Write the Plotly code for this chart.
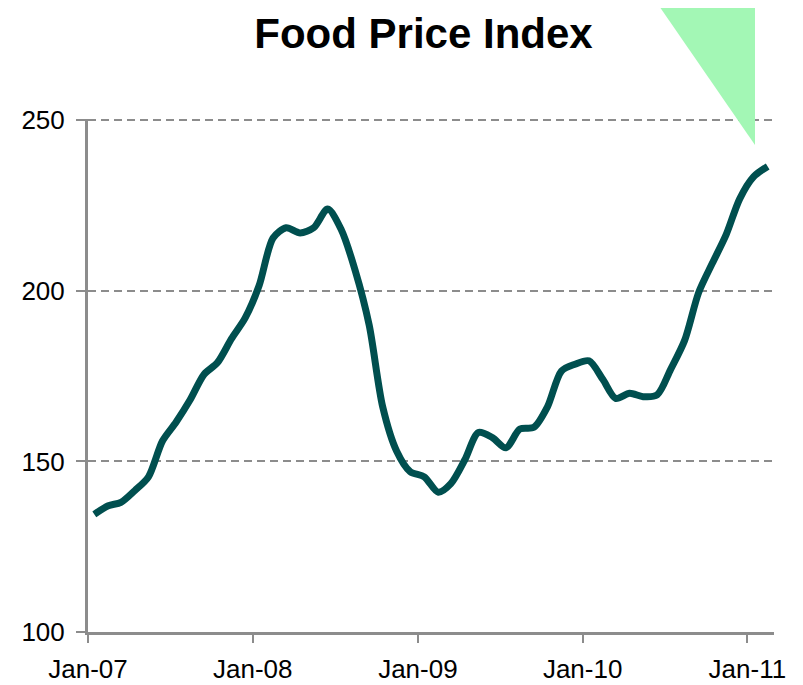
"""Food Price Index line chart (Plotly)."""

import plotly.graph_objects as go

# monthly data, Jan-2007 .. Feb-2011 (plotted mid-month)
months = [f"{2007 + i // 12}-{i % 12 + 1:02d}-15" for i in range(50)]
index_values = [
    134.5, 137, 138, 141.5, 145.5, 156, 161.5, 168, 175.5, 179, 186, 192,
    201.5, 215.5, 218.5, 217, 218.5, 224, 218, 206, 190, 166, 153, 147,
    145.5, 141, 143.5, 150.5, 158.5, 157, 154, 159.5, 160, 166, 176.5, 178.5,
    179.5, 174, 168.5, 170, 169, 169.5, 177, 185.5, 199.5, 208, 216.5, 227,
    233.5, 236.5,
]
tick_dates = ["2007-01-01", "2008-01-01", "2009-01-01", "2010-01-01", "2011-01-01"]
tick_labels = ["Jan-07", "Jan-08", "Jan-09", "Jan-10", "Jan-11"]
y_ticks = [100, 150, 200, 250]

FONT = "Liberation Sans, Arial, sans-serif"
AXIS_GREY = "#8c8c8c"

fig = go.Figure(go.Scatter(
    x=months,
    y=index_values,
    mode="lines",
    line=dict(color="#004f4f", width=7, shape="spline", smoothing=0.8),
    hoverinfo="skip",
))

# page body adds an 8px offset, so the figure is sized to end at the window edge
fig.update_layout(
    width=795,
    height=677,
    margin=dict(l=80, r=29, t=111, b=53),
    paper_bgcolor="white",
    plot_bgcolor="white",
    showlegend=False,
    font=dict(family=FONT, size=26, color="black"),
    title=dict(
        text="<b>Food Price Index</b>",
        font=dict(family=FONT, size=42, color="black"),
        x=415.5 / 795, xref="container", xanchor="center",
        y=1 - 25 / 677, yref="container", yanchor="middle",
    ),
    xaxis=dict(
        type="date",
        range=["2007-01-01", "2011-03-01"],
        tickvals=tick_dates,
        ticktext=tick_labels,
        showgrid=False,
        showline=True, linecolor=AXIS_GREY, linewidth=3,
        ticks="outside", ticklen=8, tickwidth=2, tickcolor=AXIS_GREY,
        ticklabelstandoff=4,
        zeroline=False,
        automargin=False,
    ),
    yaxis=dict(
        range=[100, 250.4],
        tickvals=y_ticks,
        showgrid=True, gridcolor=AXIS_GREY, gridwidth=2, griddash="8px,5px",
        showline=True, linecolor=AXIS_GREY, linewidth=3,
        ticks="outside", ticklen=9, tickwidth=2, tickcolor=AXIS_GREY,
        ticklabelstandoff=6,
        zeroline=False,
        automargin=False,
    ),
    shapes=[dict(
        type="path",
        xref="paper", yref="paper",
        path="M 0.8265 1.232 L 0.9723 1.232 L 0.9723 0.9493 Z",
        fillcolor="#a3f7b5",
        line=dict(width=0),
        layer="above",
    )],
)

fig.write_html("out.html")
